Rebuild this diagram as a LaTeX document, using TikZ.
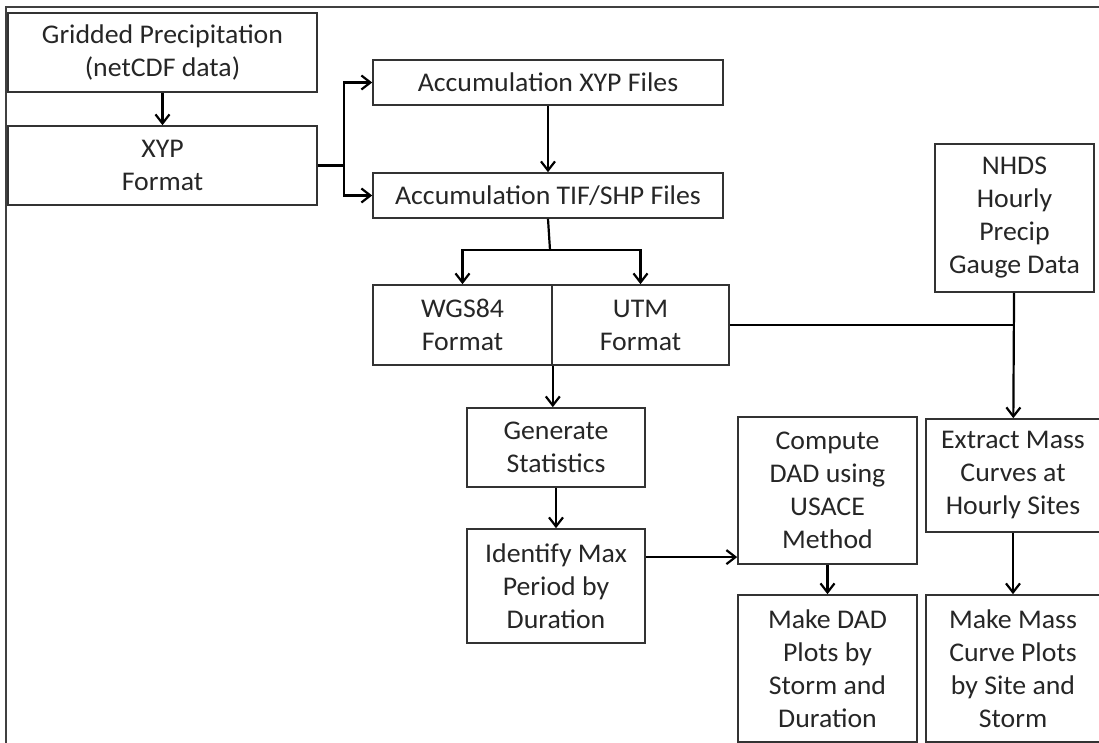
\documentclass[tikz,border=0pt]{standalone}
\usepackage{fontspec}
\setmainfont{Carlito}[FakeStretch=1.03]
\usetikzlibrary{arrows,arrows.meta,calc}

\tikzset{
  box/.style={draw=black!80, line width=0.8pt, inner sep=1pt, align=center, text=black!85, font=\fontsize{13.5}{16.5}\selectfont},
  flow/.style={-{Straight Barb[length=4.5pt,width=7pt]}, line width=1.1pt},
  link/.style={line width=1.1pt},
}

\begin{document}
\begin{tikzpicture}[x=0.5pt,y=-0.5pt]
\useasboundingbox (0,0) rectangle (1099,743);
\clip (0,0) rectangle (1099,743);
\draw[line width=1pt, black!75] (6,750) -- (6,7) -- (1110,7);

\node[box, minimum width=154.5pt, minimum height=39.5pt] (grid) at (162.5,52.5) {Gridded Precipitation\\(netCDF data)};
\node[box, minimum width=154.5pt, minimum height=39.5pt] (xyp) at (162.5,165.5) {XYP\\Format};
\node[box, minimum width=175pt, minimum height=22.5pt] (accxyp) at (548,82.5) {Accumulation XYP Files};
\node[box, minimum width=175pt, minimum height=22.5pt] (acctif) at (548,195.5) {Accumulation TIF/SHP Files};
\node[box, minimum width=89.5pt, minimum height=40pt] (wgs) at (462.5,325) {WGS84\\Format};
\node[box, minimum width=88.5pt, minimum height=40pt] (utm) at (640.5,325) {UTM\\Format};
\node[box, minimum width=79.5pt, minimum height=74pt] (nhds) at (1014.5,218) {NHDS\\Hourly\\Precip\\Gauge Data};
\node[box, minimum width=89pt, minimum height=39.5pt] (gen) at (556,447.5) {Generate\\Statistics};
\node[box, minimum width=89pt, minimum height=57pt] (ident) at (556,586) {Identify Max\\Period by\\Duration};
\node[box, minimum width=89.5pt, minimum height=73.5pt] (compute) at (827.5,490.5) {Compute\\DAD using\\USACE\\Method};
\node[box, minimum width=87pt, minimum height=56.5pt] (extract) at (1013,475.5) {Extract Mass\\Curves at\\Hourly Sites};
\node[box, minimum width=89.5pt, minimum height=73.5pt] (makedad) at (827.5,668.5) {Make DAD\\Plots by\\Storm and\\Duration};
\node[box, minimum width=87pt, minimum height=73.5pt] (makemass) at (1013,668.5) {Make Mass\\Curve Plots\\by Site and\\Storm};

\coordinate (split) at (344,165.5);
\coordinate (fork) at (550,250);
\coordinate (maxout) at ($(ident.north east)!0.25!(ident.south east)$);

\draw[flow] (grid) -- (xyp);
\draw[link] (xyp.east) -- (split);
\draw[flow] (split) |- (accxyp.west);
\draw[flow] (split) |- (acctif.west);
\draw[flow] (accxyp) -- (acctif);
\draw[link] (acctif.south) -- (fork);
\draw[flow] (fork) -| (wgs.north);
\draw[flow] (fork) -| (utm.north);
\draw[flow] (wgs.south east) -- (wgs.south east |- gen.north);
\draw[flow] (gen) -- (ident);
\draw[flow] (maxout) -- (compute.west |- maxout);
\draw[flow] (compute) -- (makedad);
\draw[link] (utm.east) -- (nhds.south |- utm.east);
\draw[flow] (nhds) -- (extract);
\draw[flow] (extract) -- (makemass);
\end{tikzpicture}
\end{document}
